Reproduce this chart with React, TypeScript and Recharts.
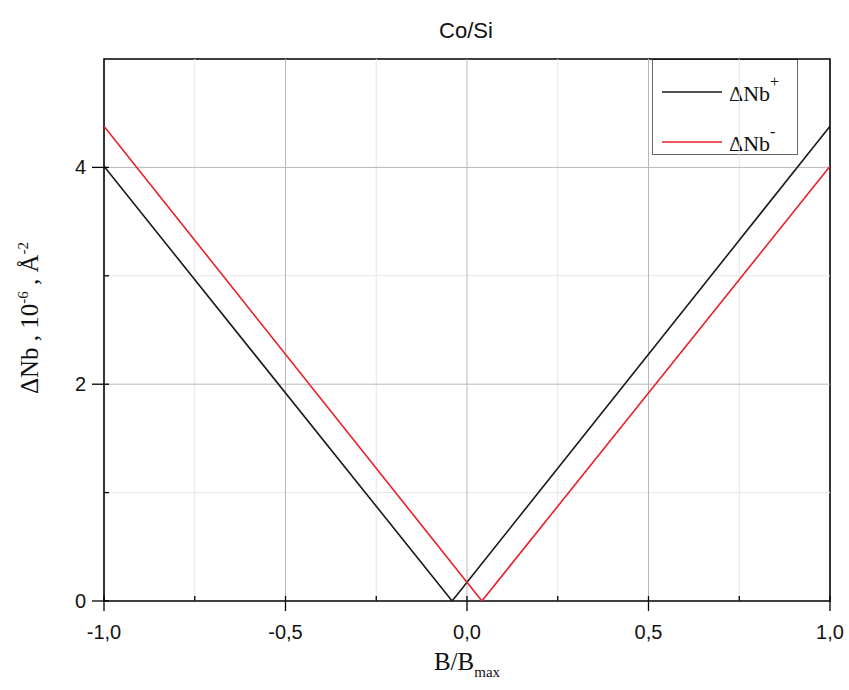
import React from 'react';
import {
  LineChart,
  Line,
  XAxis,
  YAxis,
  ReferenceLine,
  ReferenceArea,
  Customized,
} from 'recharts';

// Field ratio B/Bmax at the corners of each V-shaped curve
const fieldPlus = [-1, -0.041, 1];
const fieldMinus = [-1, 0.041, 1];
// ΔNb values (10^-6 Å^-2)
const nbPlus = [4.01, 0, 4.38];
const nbMinus = [4.38, 0, 4.01];

const xTicks = [-1, -0.75, -0.5, -0.25, 0, 0.25, 0.5, 0.75, 1];
const xMajorTicks = [-1, -0.5, 0, 0.5, 1];
const yTicks = [0, 1, 2, 3, 4];
const yMajorTicks = [0, 2, 4];
const xGridMajor = [-0.5, 0, 0.5];
const xGridMinor = [-0.75, -0.25, 0.25, 0.75];
const yGridMajor = [2, 4];
const yGridMinor = [1, 3];

const seriesPlus = fieldPlus.map((x, i) => ({ x, y: nbPlus[i] }));
const seriesMinus = fieldMinus.map((x, i) => ({ x, y: nbMinus[i] }));

const COLOR_PLUS = '#1a1a1a';
const COLOR_MINUS = '#e8202a';
const legendItems = [
  { sup: '+', color: COLOR_PLUS },
  { sup: '-', color: COLOR_MINUS },
];

const SERIF = '"Liberation Serif", "Times New Roman", serif';
const SANS = '"Liberation Sans", Arial, sans-serif';

const fmtX = (v: number) => v.toFixed(1).replace('.', ',');

const XTick = (props: any) => {
  const { x, y, payload } = props;
  const v = payload.value;
  const major = xMajorTicks.includes(v);
  return (
    <g>
      <line
        x1={x}
        x2={x}
        y1={major ? y - 5 : y - 5}
        y2={major ? y + 10 : y}
        stroke="#000"
        strokeWidth={1.3}
      />
      {major && (
        <text x={x} y={y + 38} textAnchor="middle" fontFamily={SANS} fontSize={20} fill="#111">
          {fmtX(v)}
        </text>
      )}
    </g>
  );
};

const YTick = (props: any) => {
  const { x, y, payload } = props;
  const v = payload.value;
  const major = yMajorTicks.includes(v);
  return (
    <g>
      <line
        x1={major ? x - 12 : x}
        x2={x + 5}
        y1={y}
        y2={y}
        stroke="#000"
        strokeWidth={1.3}
      />
      {major && (
        <text x={x - 18} y={y + 7} textAnchor="end" fontFamily={SANS} fontSize={20} fill="#111">
          {v}
        </text>
      )}
    </g>
  );
};

const XLabel = (props: any) => {
  const vb = props.viewBox || {};
  const cx = vb.x + vb.width / 2;
  return (
    <text x={cx} y={vb.y + 69} textAnchor="middle" fontFamily={SERIF} fontSize={25} fill="#111">
      B/B
      <tspan fontSize={15} dy={7}>max</tspan>
    </text>
  );
};

const YLabel = (props: any) => {
  const vb = props.viewBox || {};
  const cy = vb.y + vb.height / 2 - 12;
  const cx = 38;
  return (
    <text
      x={cx}
      y={cy}
      transform={`rotate(-90 ${cx} ${cy})`}
      textAnchor="middle"
      fontFamily={SERIF}
      fontSize={25}
      fill="#111"
    >
      ΔNb , 10
      <tspan fontSize={15} dy={-10}>-6</tspan>
      <tspan dy={10}> , Å</tspan>
      <tspan fontSize={15} dy={-10}>-2</tspan>
    </text>
  );
};

const Title = () => (
  <text x={466} y={38} textAnchor="middle" fontFamily={SANS} fontSize={22} fill="#111">
    Co/Si
  </text>
);

const LegendBox = () => {
  const left = 652;
  const top = 59;
  return (
    <g>
      <rect x={left + 0.5} y={top + 0.5} width={145} height={95} fill="#fff" stroke="#666" strokeWidth={1} />
      {legendItems.map((it, i) => {
        const ly = top + 33 + i * 50;
        return (
          <g key={it.sup}>
            <line x1={left + 10} x2={left + 70} y1={ly} y2={ly} stroke={it.color} strokeWidth={1.6} />
            <text x={left + 77} y={ly + 9} fontFamily={SERIF} fontSize={22} fill="#111">
              ΔNb
              <tspan fontSize={16} dy={-14}>{it.sup}</tspan>
            </text>
          </g>
        );
      })}
    </g>
  );
};

export default function App() {
  return (
    <div style={{ position: 'absolute', left: 0, top: 0, background: '#fff' }}>
      <LineChart width={849} height={690} margin={{ top: 59, right: 19, bottom: 0, left: 0 }}>
        <XAxis
          type="number"
          dataKey="x"
          domain={[-1, 1]}
          ticks={xTicks}
          allowDataOverflow
          height={89}
          axisLine={false}
          tickLine={false}
          tickSize={0}
          tickMargin={0}
          tick={<XTick />}
          interval={0}
          label={<XLabel />}
        />
        <YAxis
          type="number"
          dataKey="y"
          domain={[0, 5]}
          ticks={yTicks}
          allowDataOverflow
          width={104}
          axisLine={false}
          tickLine={false}
          tickSize={0}
          tickMargin={0}
          tick={<YTick />}
          interval={0}
          label={<YLabel />}
        />
        {xGridMinor.map((v) => (
          <ReferenceLine key={`xm${v}`} x={v} stroke="#e6e6e6" strokeWidth={1} />
        ))}
        {yGridMinor.map((v) => (
          <ReferenceLine key={`ym${v}`} y={v} stroke="#e6e6e6" strokeWidth={1} />
        ))}
        {xGridMajor.map((v) => (
          <ReferenceLine key={`xM${v}`} x={v} stroke="#b8b8b8" strokeWidth={1} />
        ))}
        {yGridMajor.map((v) => (
          <ReferenceLine key={`yM${v}`} y={v} stroke="#b8b8b8" strokeWidth={1} />
        ))}
        <ReferenceArea x1={-1} x2={1} y1={0} y2={5} fill="none" stroke="#000" strokeWidth={1.6} />
        <Line
          data={seriesPlus}
          dataKey="y"
          name="ΔNb+"
          type="linear"
          stroke={COLOR_PLUS}
          strokeWidth={1.6}
          dot={false}
          isAnimationActive={false}
        />
        <Line
          data={seriesMinus}
          dataKey="y"
          name="ΔNb-"
          type="linear"
          stroke={COLOR_MINUS}
          strokeWidth={1.6}
          dot={false}
          isAnimationActive={false}
        />
        <Customized component={<LegendBox />} />
        <Customized component={<Title />} />
      </LineChart>
    </div>
  );
}
